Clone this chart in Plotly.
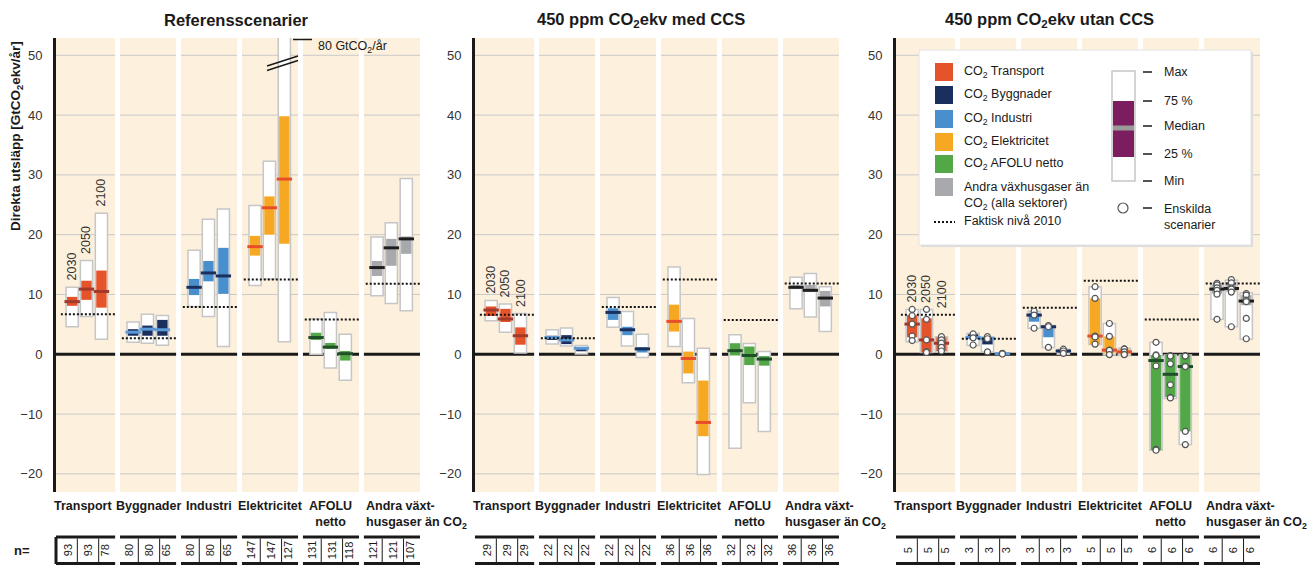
import plotly.graph_objects as go

OX, OY = 0, 0
W, H = 1310, 565
FONT = "Liberation Sans, Arial, sans-serif"

# ---------------- data ----------------
sectors = ["Transport", "Byggnader", "Industri", "Elektricitet",
           "AFOLU<br>netto", "Andra växt-<br>husgaser än CO<sub>2</sub>"]
years = ["2030", "2050", "2100"]
panel_titles = ["Referensscenarier",
                "450 ppm CO<sub>2</sub>ekv med CCS",
                "450 ppm CO<sub>2</sub>ekv utan CCS"]
tick_values = [-20, -10, 0, 10, 20, 30, 40, 50]

fill_colors = ["#e4532a", "#1b2f5e", "#4a8fcd", "#f7a823", "#52a746", "#a8a9ac"]
median_colors = ["#a2392a", "#5b9ad6", "#1b2f5e", "#e84e2a", "#1f4f26", "#1e1e1e"]

# Referensscenarier  (rows: sectors, cols: 2030, 2050, 2100)
ref_min = [[4.6, 6.3, 2.5], [2.0, 1.85, 1.5], [8.0, 6.3, 1.3], [11.5, 12.6, 2.1], [0.0, -2.3, -4.35], [9.8, 8.5, 7.3]]
ref_q25 = [[8.1, 9.1, 7.8], [3.1, 3.1, 3.1], [9.9, 12.2, 10.1], [16.5, 20.0, 18.5], [2.4, 0.9, -1.05], [13.1, 14.8, 16.8]]
ref_med = [[8.8, 10.9, 10.5], [3.7, 4.2, 4.1], [11.2, 13.6, 13.1], [18.0, 24.5, 29.3], [2.8, 1.2, 0.1], [14.5, 17.8, 19.3]]
ref_q75 = [[9.6, 12.3, 14.0], [4.2, 4.8, 5.75], [12.6, 15.6, 17.8], [19.8, 26.4, 39.8], [3.6, 1.9, 0.55], [15.6, 19.3, 19.7]]
ref_max = [[11.2, 15.7, 23.6], [5.4, 6.7, 6.5], [17.4, 22.6, 24.3], [24.9, 32.3, 80.0], [5.9, 7.0, 3.35], [19.6, 22.0, 29.4]]
ref_2010 = [6.7, 2.7, 7.9, 12.5, 5.8, 11.8]
ref_n = [[93, 93, 78], [80, 80, 65], [80, 80, 65], [147, 147, 127], [131, 131, 118], [121, 121, 107]]

# 450 ppm med CCS
ccs_min = [[5.6, 3.7, 0.2], [1.7, 1.4, 0.05], [4.5, 1.4, -0.55], [1.3, -4.75, -20.1], [-15.7, -8.1, -12.9], [7.6, 6.25, 3.8]]
ccs_q25 = [[6.4, 5.4, 1.6], [2.4, 1.7, 0.5], [5.75, 3.2, 0.3], [3.8, -3.2, -13.7], [-0.2, -1.8, -1.9], [10.9, 10.4, 8.0]]
ccs_med = [[7.4, 5.9, 3.1], [2.8, 2.4, 1.0], [7.0, 4.1, 0.9], [5.5, -0.7, -11.4], [0.6, -0.2, -0.8], [11.2, 10.7, 9.4]]
ccs_q75 = [[8.0, 7.6, 4.5], [3.1, 3.2, 1.2], [7.7, 4.6, 1.2], [8.3, 0.45, -4.4], [1.85, 1.3, -0.3], [11.6, 11.6, 10.6]]
ccs_max = [[9.0, 8.4, 6.8], [4.1, 4.4, 1.45], [9.5, 7.15, 3.35], [14.6, 6.0, 1.0], [3.25, 1.8, 0.45], [12.9, 13.5, 11.3]]
ccs_2010 = [6.6, 2.7, 7.9, 12.5, 5.75, 11.85]
ccs_n = [[29, 29, 29], [22, 22, 22], [22, 22, 22], [36, 36, 36], [32, 32, 32], [36, 36, 36]]

# 450 ppm utan CCS
utan_min = [[2.1, 0.3, 0.55], [1.45, 0.4, 0.0], [4.35, 1.15, 0.0], [1.65, -0.1, -0.2], [-16.05, -7.4, -15.1], [5.85, 4.6, 2.5]]
utan_q25 = [[2.85, 0.3, 0.55], [2.65, 1.65, 0.05], [5.45, 2.85, 0.2], [1.65, 0.15, 0.0], [-16.0, -7.15, -12.9], [10.15, 10.45, 8.2]]
utan_med = [[5.05, 2.4, 1.85], [2.8, 2.6, 0.1], [6.55, 4.6, 0.55], [3.05, 0.7, 0.4], [-1.05, -3.35, -2.05], [10.9, 11.0, 8.9]]
utan_q75 = [[6.55, 6.0, 2.85], [3.35, 2.85, 0.15], [6.95, 4.7, 0.7], [9.35, 3.0, 0.85], [-0.1, -0.1, -0.1], [11.65, 12.1, 9.9]]
utan_max = [[7.5, 7.5, 2.95], [3.5, 2.95, 0.2], [7.2, 4.8, 0.85], [11.3, 5.15, 1.0], [2.0, -0.1, -0.1], [11.8, 12.4, 10.3]]
utan_2010 = [6.6, 2.6, 7.8, 12.3, 5.8, 11.85]
utan_n = [[5, 5, 5], [3, 3, 3], [3, 3, 3], [5, 5, 5], [6, 6, 6], [6, 6, 6]]
utan_scenarios = [
    [[7.5, 6.45, 5.05, 3.05, 2.3], [7.5, 5.85, 2.4, 0.45, 0.3], [2.95, 2.4, 1.85, 1.15, 0.55]],
    [[3.4, 2.75, 1.55], [2.95, 2.6, 0.4], [0.15, 0.1, 0.05]],
    [[7.2, 6.55, 4.35], [4.8, 4.6, 1.15], [0.85, 0.55, 0.15]],
    [[11.3, 9.35, 3.05, 2.9, 1.7], [5.15, 3.0, 0.7, 0.65, -0.05], [0.9, 0.85, 0.4, 0.0, -0.05]],
    [[2.0, -0.1, -0.2, -1.95, -15.9, -16.05], [-0.2, -0.3, -1.6, -5.1, -7.2, -7.3], [-0.2, -0.3, -2.0, -2.05, -12.9, -15.1]],
    [[11.85, 11.6, 11.1, 10.7, 10.05, 5.85], [12.5, 11.95, 11.1, 10.9, 10.4, 4.6], [10.15, 9.9, 9.05, 8.8, 6.0, 2.6]],
]

panels = [
    dict(mn=ref_min, q25=ref_q25, med=ref_med, q75=ref_q75, mx=ref_max, lvl=ref_2010, n=ref_n, dots=None),
    dict(mn=ccs_min, q25=ccs_q25, med=ccs_med, q75=ccs_q75, mx=ccs_max, lvl=ccs_2010, n=ccs_n, dots=None),
    dict(mn=utan_min, q25=utan_q25, med=utan_med, q75=utan_q75, mx=utan_max, lvl=utan_2010, n=utan_n, dots=utan_scenarios),
]

# ---------------- geometry (page pixels) ----------------
def PX(px):
    return (px - OX) / W


def PY(py):
    return 1 - (py - OY) / H


axis_px = [56, 475, 896]
panel_w = 364
X_RANGE = [-0.51, 5.46]
Y_RANGE = [-23.03, 52.89]
PLOT_TOP, PLOT_BOT = 38, 492
offs = [-0.245, -0.01, 0.235]
BOX_W = 0.2
CREAM = "#fdf1dd"
GRID = "#c9c9c9"
INK = "#1a1a1a"
CAT_SIZE = 12.5

fig = go.Figure()
shapes = []
annotations = []
layout_axes = {}


def col_edges(i):
    return (X_RANGE[0] if i == 0 else i - 0.46), i + 0.46


for p, d in enumerate(panels):
    xa = "x" if p == 0 else f"x{p + 1}"
    ya = "y" if p == 0 else f"y{p + 1}"
    xkey = "xaxis" if p == 0 else f"xaxis{p + 1}"
    ykey = "yaxis" if p == 0 else f"yaxis{p + 1}"
    layout_axes[xkey] = dict(domain=[PX(axis_px[p]), PX(axis_px[p] + panel_w)], range=X_RANGE,
                             showgrid=False, zeroline=False, showticklabels=False, fixedrange=True,
                             anchor=ya)
    layout_axes[ykey] = dict(domain=[PY(PLOT_BOT), PY(PLOT_TOP)], range=Y_RANGE, anchor=xa,
                             tickvals=tick_values, ticks="", showgrid=False, zeroline=False,
                             showline=True, linewidth=3, linecolor=INK,
                             tickfont=dict(family=FONT, size=13, color="#333333"),
                             ticklabelstandoff=8, fixedrange=True)

    # column backgrounds + per-column grid
    for i in range(6):
        x0, x1 = col_edges(i)
        shapes.append(dict(type="rect", xref=xa, yref=f"{ya} domain", x0=x0, x1=x1, y0=0, y1=1,
                           fillcolor=CREAM, line=dict(width=0), layer="below"))
        for t in tick_values:
            if t == 0:
                continue
            shapes.append(dict(type="line", xref=xa, yref=ya, x0=x0, x1=x1, y0=t, y1=t,
                               line=dict(color=GRID, width=1), layer="below"))
        shapes.append(dict(type="line", xref=xa, yref=ya, x0=x0, x1=x1, y0=0, y1=0,
                           line=dict(color=INK, width=3), layer="below"))

    xs, mns, hs, q25s, qh, meds, fc, mc = [], [], [], [], [], [], [], []
    for i in range(6):
        for j in range(3):
            xs.append(i + offs[j])
            mns.append(d["mn"][i][j])
            hs.append(d["mx"][i][j] - d["mn"][i][j])
            q25s.append(d["q25"][i][j])
            qh.append(d["q75"][i][j] - d["q25"][i][j])
            meds.append(d["med"][i][j])
            fc.append(fill_colors[i])
            mc.append(median_colors[i])

    fig.add_trace(go.Bar(x=xs, y=hs, base=mns, width=BOX_W, xaxis=xa, yaxis=ya,
                         marker=dict(color="white", line=dict(color="#c6c6c6", width=1.5)),
                         showlegend=False, hoverinfo="skip"))
    fig.add_trace(go.Bar(x=xs, y=qh, base=q25s, width=BOX_W - 0.03, xaxis=xa, yaxis=ya,
                         marker=dict(color=fc, line=dict(width=0)),
                         showlegend=False, hoverinfo="skip"))
    fig.add_trace(go.Scatter(x=xs, y=meds, mode="markers", xaxis=xa, yaxis=ya,
                             marker=dict(symbol="line-ew", size=11, line=dict(width=3, color=mc)),
                             showlegend=False, hoverinfo="skip"))

    # 2010 level dotted lines
    lx, ly = [], []
    for i in range(6):
        lx += [i - 0.43, i + 0.46, None]
        ly += [d["lvl"][i], d["lvl"][i], None]
    fig.add_trace(go.Scatter(x=lx, y=ly, mode="lines", xaxis=xa, yaxis=ya,
                             line=dict(color="#111111", width=2, dash="2px,2px"),
                             showlegend=False, hoverinfo="skip"))

    # individual scenarios
    if d["dots"] is not None:
        dx, dy = [], []
        for i in range(6):
            for j in range(3):
                for v in d["dots"][i][j]:
                    dx.append(i + offs[j])
                    dy.append(v)
        fig.add_trace(go.Scatter(x=dx, y=dy, mode="markers", xaxis=xa, yaxis=ya,
                                 marker=dict(symbol="circle", size=6, color="white",
                                             line=dict(color="#555555", width=1.2)),
                                 showlegend=False, hoverinfo="skip"))

    # year labels above transport boxes
    for j in range(3):
        base_y = max(min(d["mx"][0][j], Y_RANGE[1]), d["lvl"][0])
        annotations.append(dict(xref=xa, yref=ya, x=offs[j], y=base_y, text=years[j],
                                textangle=-90, showarrow=False, yanchor="bottom", xanchor="center",
                                yshift=5, font=dict(family=FONT, size=12.5, color="#333333")))

    # category labels
    for i in range(6):
        if i == 5:
            annotations.append(dict(xref=xa, yref="paper", x=i - 0.46, y=PY(497), text=sectors[i],
                                    showarrow=False, xanchor="left", yanchor="top", align="left",
                                    font=dict(family=FONT, size=CAT_SIZE, color=INK, weight="bold")))
        else:
            annotations.append(dict(xref=xa, yref="paper", x=i, y=PY(497), text=sectors[i],
                                    showarrow=False, xanchor="center", yanchor="top", align="center",
                                    xshift=-4 if i == 0 else 0,
                                    font=dict(family=FONT, size=CAT_SIZE, color=INK, weight="bold")))

    # n= table
    for i in range(6):
        x0, x1 = col_edges(i)
        for yy in (537, 563.5):
            shapes.append(dict(type="line", xref=xa, yref="paper", x0=x0, x1=x1, y0=PY(yy), y1=PY(yy),
                               line=dict(color=INK, width=3)))
        for dv in (-0.16, 0.19):
            shapes.append(dict(type="line", xref=xa, yref="paper", x0=i + dv, x1=i + dv,
                               y0=PY(538.5), y1=PY(562), line=dict(color=INK, width=1)))
        for j, to in enumerate((-0.31, 0.02, 0.30)):
            annotations.append(dict(xref=xa, yref="paper", x=i + to, y=PY(550), text=str(d["n"][i][j]),
                                    textangle=-90, showarrow=False, xanchor="center", yanchor="middle",
                                    font=dict(family=FONT, size=11, color=INK)))

    # panel title
    title_x = [236, 641, 1049][p]
    annotations.append(dict(xref="paper", yref="paper", x=PX(title_x), y=PY(20), text=panel_titles[p],
                            showarrow=False, xanchor="center", yanchor="middle",
                            font=dict(family=FONT, size=16.5, color=INK, weight="bold")))

# n= label and left table border (first panel)
annotations.append(dict(xref="paper", yref="paper", x=PX(12), y=PY(550), text="n=", showarrow=False,
                        xanchor="left", yanchor="middle",
                        font=dict(family=FONT, size=13, color=INK, weight="bold")))
shapes.append(dict(type="line", xref="paper", yref="paper", x0=PX(56), x1=PX(56), y0=PY(537), y1=PY(564),
                   line=dict(color=INK, width=3)))

# y axis title
annotations.append(dict(xref="paper", yref="paper", x=PX(16), y=PY(136),
                        text="Direkta utsläpp [GtCO<sub>2</sub>ekv/år]", textangle=-90, showarrow=False,
                        xanchor="center", yanchor="middle",
                        font=dict(family=FONT, size=13.5, color=INK, weight="bold")))

# axis break on reference electricity 2100 (max 80 Gt)
for (ax0, ay0, ax1, ay1) in [(267, 70.5, 298, 60.5), (267, 66, 298, 56)]:
    shapes.append(dict(type="line", xref="paper", yref="paper", x0=PX(ax0), y0=PY(ay0), x1=PX(ax1), y1=PY(ay1),
                       line=dict(color=INK, width=1.5), layer="above"))
shapes.append(dict(type="line", xref="paper", yref="paper", x0=PX(293), y0=PY(39.5), x1=PX(312), y1=PY(39.5),
                   line=dict(color=INK, width=1.5), layer="above"))
annotations.append(dict(xref="paper", yref="paper", x=PX(316), y=PY(47),
                        text=f"{int(ref_max[3][2])} GtCO<sub>2</sub>/år", showarrow=False,
                        xanchor="left", yanchor="middle", font=dict(family=FONT, size=12.5, color=INK)))

# ---------------- legend (drawn) ----------------
shapes.append(dict(type="rect", xref="paper", yref="paper", x0=PX(921), x1=PX(1253), y0=PY(247), y1=PY(52),
                   fillcolor="#dcdcdc", line=dict(width=0), layer="above"))
shapes.append(dict(type="rect", xref="paper", yref="paper", x0=PX(919), x1=PX(1251), y0=PY(245), y1=PY(50),
                   fillcolor="white", line=dict(color="#e2e2e2", width=1), layer="above"))
legend_labels = ["CO<sub>2</sub> Transport", "CO<sub>2</sub> Byggnader", "CO<sub>2</sub> Industri",
                 "CO<sub>2</sub> Elektricitet", "CO<sub>2</sub> AFOLU netto",
                 "Andra växhusgaser än<br>CO<sub>2</sub> (alla sektorer)"]
row_y = [72, 95, 119, 142, 164, 187]
for k in range(6):
    shapes.append(dict(type="rect", xref="paper", yref="paper", x0=PX(935), x1=PX(953),
                       y0=PY(row_y[k] + 9), y1=PY(row_y[k] - 9), fillcolor=fill_colors[k],
                       line=dict(width=0), layer="above"))
    ty = row_y[k] if k < 5 else 195.5
    annotations.append(dict(xref="paper", yref="paper", x=PX(962), y=PY(ty), text=legend_labels[k],
                            showarrow=False, xanchor="left", yanchor="middle", align="left",
                            font=dict(family=FONT, size=12.5, color=INK)))
shapes.append(dict(type="line", xref="paper", yref="paper", x0=PX(934), x1=PX(955), y0=PY(222), y1=PY(222),
                   line=dict(color="#111111", width=2, dash="2px,2px"), layer="above"))
annotations.append(dict(xref="paper", yref="paper", x=PX(962), y=PY(221), text="Faktisk nivå 2010",
                        showarrow=False, xanchor="left", yanchor="middle",
                        font=dict(family=FONT, size=12.5, color=INK)))

shapes.append(dict(type="rect", xref="paper", yref="paper", x0=PX(1112), x1=PX(1135), y0=PY(181), y1=PY(71),
                   fillcolor="white", line=dict(color="#c6c6c6", width=1.5), layer="above"))
shapes.append(dict(type="rect", xref="paper", yref="paper", x0=PX(1113), x1=PX(1134), y0=PY(157), y1=PY(101),
                   fillcolor="#7b1d5f", line=dict(width=0), layer="above"))
shapes.append(dict(type="rect", xref="paper", yref="paper", x0=PX(1113), x1=PX(1134), y0=PY(130.5), y1=PY(125.5),
                   fillcolor="#9a9a9a", line=dict(width=0), layer="above"))
key_labels = ["Max", "75 %", "Median", "25 %", "Min", "Enskilda<br>scenarier"]
key_y = [72, 101, 126, 154, 181, 208]
for k in range(6):
    shapes.append(dict(type="line", xref="paper", yref="paper", x0=PX(1143), x1=PX(1152),
                       y0=PY(key_y[k]), y1=PY(key_y[k]), line=dict(color=INK, width=1.5), layer="above"))
    annotations.append(dict(xref="paper", yref="paper", x=PX(1162), y=PY(key_y[k] - 8 if k == 5 else key_y[k]),
                            text=key_labels[k], showarrow=False, xanchor="left",
                            yanchor="top" if k == 5 else "middle", align="left",
                            font=dict(family=FONT, size=12.5, color=INK)))
shapes.append(dict(type="circle", xref="paper", yref="paper", x0=PX(1118), x1=PX(1128), y0=PY(213), y1=PY(203),
                   fillcolor="white", line=dict(color="#555555", width=1.2), layer="above"))

fig.update_layout(
    width=W, height=H, margin=dict(l=0, r=0, t=0, b=0),
    paper_bgcolor="white", plot_bgcolor="rgba(0,0,0,0)",
    barmode="overlay", showlegend=False,
    shapes=shapes, annotations=annotations,
    font=dict(family=FONT, color=INK),
    **layout_axes,
)

fig.write_html("out.html", config=dict(displayModeBar=False),
               post_script="document.body.style.margin='0';document.body.style.overflow='hidden';")
